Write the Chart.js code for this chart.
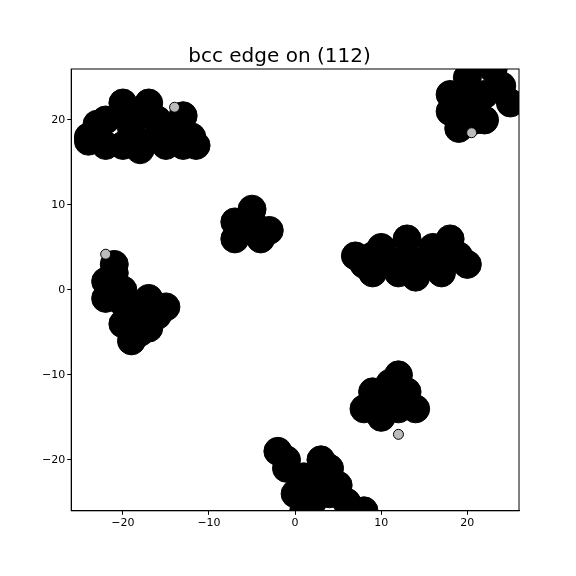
<!DOCTYPE html><html><head><script src="https://cdn.jsdelivr.net/npm/chart.js@4"></script>
<style>body{margin:0;background:#fff}#w{width:576px;height:576px}</style></head><body><div id="w"><canvas id="c"></canvas></div>
<script>
const atomsX=[-24,-22,-20,-18,-16,-14,-12,-22,-20,-18,-15,-13,-19,-16,-24,-20,-17,-13,-11.5,-23,
18,20,22,24,20,23,19,21,18,25,22,19.5,
-7,-5,-4,-7,-5,-3,-6,
7,9,11,13,15,17,19,20,9,12,14,16,18,13,10,17,8,
-21,-20,-22,-19,-20,-18,-16,-17,-21,-19,-15,-22,-18,-17,-20,
11,13,12,10,8,14,10,12,9,11,
-1,1,3,0,2,4,6,-2,-1,3,5,1,8,2,4];
const atomsY=[18,20,21,21,20,19,18,17,17,16.5,17,17,19,18,17.5,22,22,20.5,17,19.5,
21,22,23,24,25,26,19,20,23,22,20,22,
8,8,6,6,9.5,7,7,
4,4,3,4,3,4,4,3,2,2,1.5,5,6,6,5,2,3,
2,0,-1,-2,-4,-5,-3,-1,3,-6,-2,1,-3,-4.5,-1.5,
-11,-12,-14,-15,-14,-14,-13,-10,-12,-12.5,
-21,-22,-22,-24,-25,-24,-25,-19,-20,-20,-23,-26,-26,-23,-21];
const openX=[-22,12,-14,20.5], openY=[4.2,-17,21.5,18.5];
const xTicks=[-20,-10,0,10,20];
const fmt=v=>String(v).replace('-','\u2212');
new Chart(document.getElementById('c'),{type:'scatter',data:{datasets:[
{data:openX.map((x,i)=>({x,y:openY[i]})),backgroundColor:'#bbb',borderColor:'#000',borderWidth:1,pointRadius:5},
{data:atomsX.map((x,i)=>({x,y:atomsY[i]})),backgroundColor:'#000',borderColor:'#000',pointRadius:14,pointStyle:'circle'}
]},options:{responsive:true,maintainAspectRatio:false,animation:false,
layout:{padding:{left:40,right:57,top:21,bottom:44}},
plugins:{legend:{display:false},tooltip:{enabled:false},title:{display:true,text:'bcc edge on (112)',color:'#000',font:{size:20,family:'DejaVu Sans',weight:'normal'},padding:{top:24,bottom:0}}},
scales:{x:{min:-26,max:26,grid:{drawOnChartArea:false,color:'#000',tickLength:4},border:{color:'#000'},afterBuildTicks:a=>{a.ticks=xTicks.map(v=>({value:v}))},ticks:{color:'#000',padding:2,callback:fmt,font:{size:11,family:'DejaVu Sans'}}},
y:{min:-26,max:26,grid:{drawOnChartArea:false,color:'#000',tickLength:4},border:{color:'#000'},afterBuildTicks:a=>{a.ticks=xTicks.map(v=>({value:v}))},ticks:{color:'#000',padding:2,callback:fmt,font:{size:11,family:'DejaVu Sans'}}}}},
plugins:[{id:'box',afterDraw(c){const a=c.chartArea,g=c.ctx;g.save();g.strokeStyle='#000';g.lineWidth=1;g.strokeRect(a.left,a.top,a.right-a.left,a.bottom-a.top);g.restore();}}]});
</script></body></html>
